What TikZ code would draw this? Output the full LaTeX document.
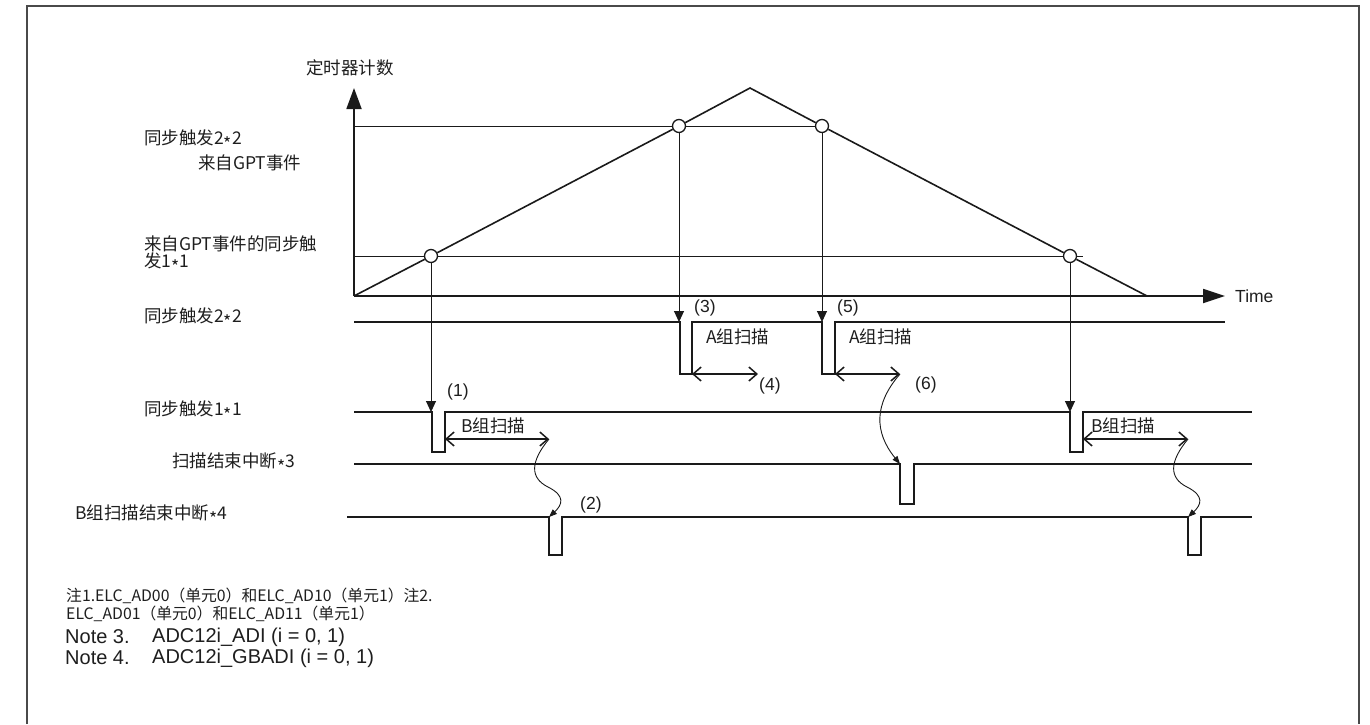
\documentclass[tikz,border=0pt]{standalone}
\usepackage{fontspec}
\setmainfont{Liberation Sans}
\newfontfamily\cjk{Noto Sans CJK SC}
\usetikzlibrary{arrows.meta}
\definecolor{ink}{HTML}{1A1A1A}
\definecolor{txt}{HTML}{1E1E1E}
\definecolor{frame}{HTML}{4A4A4A}
\newcommand{\st}{\raisebox{-0.6ex}{*}}
\tikzset{
  cjklabel/.style={font=\cjk\fontsize{17.5}{19}\selectfont, text=txt, inner sep=0pt, anchor=west},
  cjknote/.style={font=\cjk\fontsize{15.8}{17}\selectfont, text=txt, inner sep=0pt, anchor=west},
  latlabel/.style={font=\fontsize{17.5}{19}\selectfont, text=txt, inner sep=0pt, anchor=west},
  latnote/.style={font=\fontsize{20}{22}\selectfont, text=txt, inner sep=0pt, anchor=west},
  thin line/.style={draw=ink, line width=1pt},
  axis/.style={draw=ink, line width=1.8pt},
  sig/.style={draw=ink, line width=1.5pt},
  trig/.style={draw=ink, line width=1pt, -{Triangle[length=11pt,width=10pt]}},
  scanarrow/.style={draw=ink, line width=1.5pt, {Straight Barb[length=8pt,width=14pt]}-{Straight Barb[length=8pt,width=14pt]}},
  wavy/.style={draw=ink, line width=0.9pt, -{Triangle[length=8pt,width=6pt]}},
  marker/.style={circle, draw=ink, fill=white, line width=1.3pt, minimum size=13pt, inner sep=0pt},
}
\begin{document}
\begin{tikzpicture}[x=1pt,y=-1pt]
\useasboundingbox (0,0) rectangle (1370,724);
% frame
\draw[frame, line width=2pt] (27,724) -- (27,6) -- (1359,6) -- (1359,724);

% axes
\coordinate (o) at (354,296);
\coordinate (ytip) at (354,88);
\coordinate (xtip) at (1225,296);
\draw[axis, -{Triangle[length=21pt,width=15pt]}] (o) -- (ytip);
\draw[axis, -{Triangle[length=22pt,width=14pt]}] (o) -- (xtip);
\node[cjklabel] (ylab) at (306,68) {定时器计数};
\node[latlabel] (xlab) at (1235,296) {Time};

% markers
\node[marker] (c1) at (431,256) {};
\node[marker] (c2) at (679,126) {};
\node[marker] (c3) at (822,126) {};
\node[marker] (c4) at (1070,256) {};
\coordinate (peak) at (750,88);
\coordinate (tend) at (1147,296);
\coordinate (l2s) at (354,126);
\coordinate (l1s) at (354,256);
\coordinate (l1e) at (1083,256);

% level lines
\draw[thin line] (l2s) -- (c2) -- (c3);
\draw[thin line] (l1s) -- (c1) -- (c4) -- (l1e);
% triangle wave
\draw[axis, line width=1.6pt] (o) -- (c1) -- (c2) -- (peak) -- (c3) -- (c4) -- (tend);

% left labels
\node[cjklabel] (lab2a) at (144,140) {同步触发2\st2};
\node[cjklabel] (lab2b) at (198,163) {来自GPT事件};
\node[cjklabel] (lab1a) at (144,244) {来自GPT事件的同步触};
\node[cjklabel] (lab1b) at (144,263) {发1\st1};
\node[cjklabel] (r1) at (144,318) {同步触发2\st2};
\node[cjklabel] (r2) at (144,411) {同步触发1\st1};
\node[cjklabel] (r3) at (172,463) {扫描结束中断\st3};
\node[cjklabel] (r4) at (75,515) {B组扫描结束中断\st4};

% signal rows
\draw[sig] (354,322) -- (680,322) -- (680,374) -- (692,374) -- (692,322) -- (822,322) -- (822,374) -- (835,374) -- (835,322) -- (1225,322);
\draw[sig] (354,412) -- (432,412) -- (432,452) -- (445,452) -- (445,412) -- (1070,412) -- (1070,452) -- (1083,452) -- (1083,412) -- (1252,412);
\draw[sig] (354,464) -- (900,464) -- (900,504) -- (914,504) -- (914,464) -- (1252,464);
\draw[sig] (347,517) -- (549,517) -- (549,555) -- (562,555) -- (562,517) -- (1188,517) -- (1188,555) -- (1201,555) -- (1201,517) -- (1252,517);

% trigger points
\coordinate (t1) at (431,412);
\coordinate (t2) at (679,322);
\coordinate (t3) at (822,322);
\coordinate (t4) at (1070,412);
\draw[trig] (c1) -- (t1);
\draw[trig] (c2) -- (t2);
\draw[trig] (c3) -- (t3);
\draw[trig] (c4) -- (t4);

% scan arrows
\coordinate (a1s) at (692,374); \coordinate (a1e) at (758,374);
\coordinate (a2s) at (835,374); \coordinate (a2e) at (900,374);
\coordinate (b1s) at (445,439); \coordinate (b1e) at (549,439);
\coordinate (b2s) at (1083,439); \coordinate (b2e) at (1188,439);
\draw[scanarrow] (a1s) -- (a1e);
\draw[scanarrow] (a2s) -- (a2e);
\draw[scanarrow] (b1s) -- (b1e);
\draw[scanarrow] (b2s) -- (b2e);
\node[cjklabel] (sa1) at (706,337) {A组扫描};
\node[cjklabel] (sa2) at (849,337) {A组扫描};
\node[cjklabel] (sb1) at (461,426) {B组扫描};
\node[cjklabel] (sb2) at (1091,426) {B组扫描};

% wavy arrows
\coordinate (e1) at (549,517);
\coordinate (e2) at (900,464);
\coordinate (e3) at (1188,517);
\draw[wavy] (b1e) .. controls (530,462) and (530,478) .. (548,487) .. controls (566,496) and (562,505) .. (e1);
\draw[wavy] (a2e) .. controls (874,404) and (874,432) .. (e2);
\draw[wavy] (b2e) .. controls (1169,462) and (1169,478) .. (1187,487) .. controls (1205,496) and (1201,505) .. (e3);

% numbered labels
\node[latlabel] (n1) at (447,392) {(1)};
\node[latlabel] (n2) at (580,505) {(2)};
\node[latlabel] (n3) at (694,308) {(3)};
\node[latlabel] (n4) at (759,386) {(4)};
\node[latlabel] (n5) at (837,308) {(5)};
\node[latlabel] (n6) at (915,385) {(6)};

% notes
\node[cjknote] (note1) at (66,596) {注1.ELC\_AD00（单元0）和ELC\_AD10（单元1）注2.};
\node[cjknote] (note2) at (66,614) {ELC\_AD01（单元0）和ELC\_AD11（单元1）};
\node[latnote] (note3a) at (65,637) {Note 3.};
\node[latnote] (note3b) at (152,637) {ADC12i\_ADI (i = 0, 1)};
\node[latnote] (note4a) at (65,658) {Note 4.};
\node[latnote] (note4b) at (152,658) {ADC12i\_GBADI (i = 0, 1)};
\end{tikzpicture}
\end{document}
